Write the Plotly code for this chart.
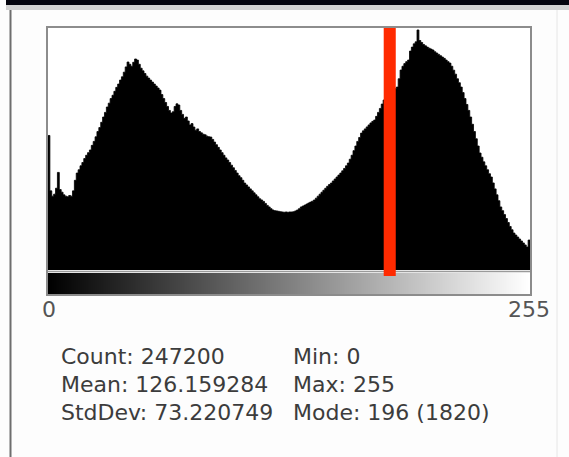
import plotly.graph_objects as go

W, H = 569, 457

# ---- data ----
bins = list(range(256))
counts = [
    1020, 600, 560, 575, 620, 740, 610, 590, 570, 560, 555, 565, 560, 600, 680, 735,
    760, 790, 815, 845, 870, 890, 910, 945, 975, 1010, 1050, 1080, 1120, 1160, 1195, 1236,
    1265, 1300, 1325, 1355, 1385, 1410, 1440, 1465, 1500, 1540, 1577, 1560, 1545, 1575, 1600, 1592,
    1560, 1530, 1510, 1490, 1470, 1455, 1440, 1425, 1410, 1395, 1380, 1364, 1330, 1300, 1270, 1240,
    1210, 1190, 1200, 1240, 1260, 1251, 1210, 1180, 1150, 1160, 1130, 1100, 1110, 1084, 1060, 1070,
    1050, 1040, 1030, 1025, 1015, 1010, 1008, 990, 970, 950, 930, 910, 890, 870, 850, 834,
    815, 795, 775, 755, 735, 715, 700, 680, 659, 645, 630, 615, 600, 585, 570, 555,
    540, 531, 520, 505, 490, 478, 465, 455, 450, 448, 445, 442, 440, 438, 440, 438,
    440, 440, 442, 448, 455, 465, 478, 485, 492, 500, 508, 515, 522, 531, 545, 560,
    575, 590, 605, 620, 635, 648, 659, 675, 690, 705, 720, 735, 752, 770, 790, 811,
    840, 870, 905, 940, 975, 1005, 1038, 1055, 1070, 1085, 1100, 1115, 1127, 1137, 1165, 1195,
    1225, 1258, 1289, 1310, 1325, 1340, 1352, 1365, 1377, 1387, 1450, 1516, 1545, 1565, 1580, 1592,
    1660, 1690, 1715, 1730, 1820, 1740, 1725, 1710, 1700, 1690, 1682, 1675, 1668, 1655, 1645, 1635,
    1625, 1615, 1605, 1592, 1580, 1569, 1545, 1515, 1485, 1450, 1420, 1387, 1345, 1300, 1255, 1210,
    1160, 1105, 1050, 995, 940, 887, 855, 820, 790, 760, 730, 705, 660, 615, 570, 525,
    478, 450, 420, 390, 360, 330, 305, 280, 265, 250, 235, 220, 205, 190, 174, 227,
]
axis_labels = ["0", "255"]
axis_label_vals = [0, 255]
threshold = 181
stats_col1 = ["Count: 247200", "Mean: 126.159284", "StdDev: 73.220749"]
stats_col2 = ["Min: 0", "Max: 255", "Mode: 196 (1820)"]
y_top = 1835

# ---- layout helpers (reference pixel -> paper fraction) ----
def px(x):
    return x / W

def py(y):
    return 1 - y / H

left, right = 48, 530
hist_top, hist_bot = 28, 270
grad_top, grad_bot = 273, 294

# step outline: each bin spans [b-0.5, b+0.5]
step_x = [b - 0.5 for b in bins] + [bins[-1] + 0.5]
step_y = counts + [counts[-1]]

fig = go.Figure()
fig.add_trace(go.Scatter(
    x=step_x, y=step_y, mode="lines", line=dict(shape="hv", color="black", width=0.8),
    fill="tozeroy", fillcolor="black",
    xaxis="x", yaxis="y", hoverinfo="skip",
))
fig.add_trace(go.Heatmap(
    x=bins, y=[0], z=[bins],
    colorscale=[[0, "black"], [1, "white"]], showscale=False,
    xaxis="x2", yaxis="y2", hoverinfo="skip",
))

fig.update_layout(
    autosize=True, height=H,
    margin=dict(l=0, r=0, t=0, b=0, autoexpand=False),
    paper_bgcolor="#fdfdfd", plot_bgcolor="white",
    showlegend=False,
    xaxis=dict(domain=[px(left), px(right)], range=[-0.5, 255.5], visible=False, fixedrange=True),
    yaxis=dict(domain=[py(hist_bot), py(hist_top)], range=[0, y_top], visible=False, fixedrange=True),
    xaxis2=dict(domain=[px(left), px(right)], range=[-0.5, 255.5], anchor="y2",
                tickvals=axis_label_vals, ticktext=axis_labels, ticks="",
                showgrid=False, zeroline=False, showline=False,
                tickfont=dict(family="DejaVu Sans", size=22, color="#555"),
                fixedrange=True),
    yaxis2=dict(domain=[py(grad_bot), py(grad_top)], range=[-0.5, 0.5], visible=False, fixedrange=True),
    font=dict(family="DejaVu Sans"),
)

shapes = []
# top black bar and light band
shapes.append(dict(type="rect", xref="paper", yref="paper", x0=px(6), x1=1, y0=py(5), y1=1,
                   fillcolor="#05050f", line=dict(width=0), layer="above"))
shapes.append(dict(type="rect", xref="paper", yref="paper", x0=px(6), x1=1, y0=py(10), y1=py(5),
                   fillcolor="#d2d2d2", line=dict(width=0), layer="above"))
# window left border
shapes.append(dict(type="line", xref="paper", yref="paper", x0=px(10.5), x1=px(10.5), y0=0, y1=py(10),
                   line=dict(color="#6e6e6e", width=2), layer="above"))
# window right faint border
shapes.append(dict(type="line", xref="paper", yref="paper", x0=px(557), x1=px(557), y0=0, y1=py(10),
                   line=dict(color="#e6e6e6", width=1), layer="above"))
# frame around histogram + gradient
shapes.append(dict(type="rect", xref="paper", yref="paper", x0=px(left - 1), x1=px(right + 1),
                   y0=py(grad_bot + 1), y1=py(hist_top - 1),
                   line=dict(color="#8c8c8c", width=2), layer="above"))
shapes.append(dict(type="line", xref="paper", yref="paper", x0=px(left), x1=px(right),
                   y0=py(271.5), y1=py(271.5), line=dict(color="#9a9a9a", width=1.5), layer="above"))
# red threshold band
shapes.append(dict(type="rect", xref="x", yref="paper", x0=threshold - 3.2, x1=threshold + 3.2,
                   y0=py(276), y1=py(hist_top), fillcolor="#ff2a00", line=dict(width=0), layer="above"))
fig.update_layout(shapes=shapes)

row_y = [356, 384, 412]
for i in range(3):
    fig.add_annotation(x=px(59), y=py(row_y[i]), xref="paper", yref="paper", text=stats_col1[i],
                       showarrow=False, xanchor="left", yanchor="middle",
                       font=dict(family="DejaVu Sans", size=22, color="#3c3c3c"))
    fig.add_annotation(x=px(291), y=py(row_y[i]), xref="paper", yref="paper", text=stats_col2[i],
                       showarrow=False, xanchor="left", yanchor="middle",
                       font=dict(family="DejaVu Sans", size=22, color="#3c3c3c"))

fig.write_html(
    "out.html",
    default_width="100%",
    default_height="457px",
    config={"displayModeBar": False, "responsive": True},
    post_script=(
        "document.documentElement.style.margin='0';"
        "document.body.style.margin='0';"
        "document.documentElement.style.overflow='hidden';"
        "document.body.style.overflow='hidden';"
        "Plotly.Plots.resize(document.getElementById('{plot_id}'));"
    ),
)
